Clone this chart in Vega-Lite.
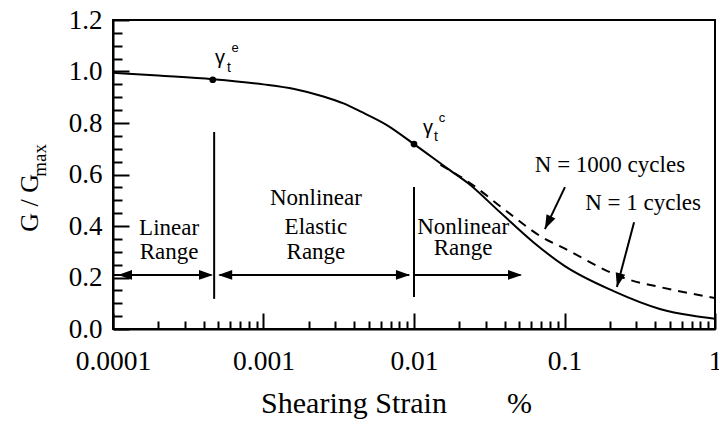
{
  "$schema": "https://vega.github.io/schema/vega-lite/v6.json",
  "width": 602,
  "height": 309,
  "autosize": {"type": "none"},
  "padding": {"left": 113, "top": 20, "right": 4, "bottom": 95},
  "background": "white",
  "config": {
    "view": {"stroke": "black", "strokeWidth": 2},
    "font": "Liberation Serif, Times New Roman, serif",
    "axis": {"labelFont": "Liberation Serif, Times New Roman, serif", "titleFont": "Liberation Serif, Times New Roman, serif"},
    "text": {"font": "Liberation Serif, Times New Roman, serif"}
  },
  "datasets": {
    "solid": [
      {"x": 0.0001, "y": 0.995}, {"x": 0.0002, "y": 0.984}, {"x": 0.00046, "y": 0.970}, {"x": 0.001, "y": 0.950},
      {"x": 0.0016, "y": 0.932}, {"x": 0.0025, "y": 0.903}, {"x": 0.0034, "y": 0.876}, {"x": 0.0044, "y": 0.845},
      {"x": 0.0066, "y": 0.792}, {"x": 0.01, "y": 0.718}, {"x": 0.0173, "y": 0.617}, {"x": 0.0229, "y": 0.566},
      {"x": 0.0372, "y": 0.454}, {"x": 0.0618, "y": 0.338}, {"x": 0.1, "y": 0.245}, {"x": 0.21, "y": 0.148},
      {"x": 0.43, "y": 0.078}, {"x": 0.7, "y": 0.052}, {"x": 1, "y": 0.040}
    ],
    "dashed": [
      {"x": 0.015, "y": 0.637}, {"x": 0.0229, "y": 0.572}, {"x": 0.0403, "y": 0.462}, {"x": 0.0708, "y": 0.357},
      {"x": 0.096, "y": 0.318}, {"x": 0.26, "y": 0.194}, {"x": 0.43, "y": 0.163}, {"x": 1, "y": 0.12}
    ],
    "points": [{"x": 0.00046, "y": 0.968}, {"x": 0.01, "y": 0.718}],
    "rules": [
      {"x": 0.00047, "y": 0.117, "x2": 0.00047, "y2": 0.765},
      {"x": 0.01, "y": 0.124, "x2": 0.01, "y2": 0.551},
      {"x": 0.0001, "y": 0.21, "x2": 0.00045, "y2": 0.21},
      {"x": 0.00051, "y": 0.21, "x2": 0.0093, "y2": 0.21},
      {"x": 0.01, "y": 0.21, "x2": 0.051, "y2": 0.21},
      {"x": 0.1007, "y": 0.551, "x2": 0.0741, "y2": 0.388},
      {"x": 0.29, "y": 0.415, "x2": 0.223, "y2": 0.163}
    ],
    "headsRight": [{"x": 0.000462, "y": 0.21}, {"x": 0.0094, "y": 0.21}, {"x": 0.0522, "y": 0.21}],
    "headsLeft": [{"x": 0.000108, "y": 0.21}, {"x": 0.0005, "y": 0.21}],
    "head1000": [{"x": 0.0741, "y": 0.388}],
    "head1": [{"x": 0.223, "y": 0.163}],
    "labels": [
      {"x": 0.000236, "y": 0.392, "t": "Linear"}, {"x": 0.000236, "y": 0.299, "t": "Range"},
      {"x": 0.00223, "y": 0.509, "t": "Nonlinear"}, {"x": 0.00223, "y": 0.396, "t": "Elastic"}, {"x": 0.00223, "y": 0.299, "t": "Range"},
      {"x": 0.0212, "y": 0.396, "t": "Nonlinear"}, {"x": 0.0212, "y": 0.315, "t": "Range"},
      {"x": 0.2004, "y": 0.637, "t": "N = 1000 cycles"}, {"x": 0.333, "y": 0.489, "t": "N = 1 cycles"}
    ],
    "gamma": [{"x": 0.000514, "y": 1.052, "t": "γ"}, {"x": 0.01239, "y": 0.781, "t": "γ"}],
    "gsub": [{"x": 0.00059, "y": 1.014, "t": "t"}, {"x": 0.014, "y": 0.746, "t": "t"}],
    "gsup": [{"x": 0.000647, "y": 1.091, "t": "e"}, {"x": 0.01535, "y": 0.819, "t": "c"}],
    "ytitle": [{"x": 0.0000281, "y": 0.49, "t": "G / G"}],
    "ytitlesub": [{"x": 0.0000327, "y": 0.655, "t": "max"}]
  },
  "encoding": {
    "x": {
      "field": "x", "type": "quantitative",
      "scale": {"type": "log", "domain": [0.0001, 1], "nice": false},
      "axis": {
        "values": [0.0001, 0.0002, 0.0003, 0.0004, 0.0005, 0.0006, 0.0007, 0.0008, 0.0009,
                   0.001, 0.002, 0.003, 0.004, 0.005, 0.006, 0.007, 0.008, 0.009,
                   0.01, 0.02, 0.03, 0.04, 0.05, 0.06, 0.07, 0.08, 0.09,
                   0.1, 0.2, 0.3, 0.4, 0.5, 0.6, 0.7, 0.8, 0.9, 1],
        "labelExpr": "abs(log(datum.value)/LN10 - round(log(datum.value)/LN10)) < 1e-6 ? format(datum.value, '~g') : ''",
        "tickSize": {"condition": {"test": "abs(log(datum.value)/LN10 - round(log(datum.value)/LN10)) < 1e-6", "value": -16}, "value": -8},
        "tickColor": "black", "tickWidth": 2, "domainColor": "black", "domainWidth": 2,
        "labelFontSize": 27.5, "labelColor": "black", "labelPadding": 34,
        "labelOverlap": false, "labelFlush": false, "grid": false,
        "title": "Shearing Strain\u00a0\u00a0\u00a0\u00a0\u00a0\u00a0\u00a0\u00a0%",
        "titleX": 283, "titleAlign": "center",
        "titleFontSize": 30, "titleFontWeight": "normal", "titleColor": "black", "titlePadding": 6
      }
    },
    "y": {
      "field": "y", "type": "quantitative",
      "scale": {"domain": [0, 1.2], "nice": false, "zero": false},
      "axis": {
        "values": [0, 0.05, 0.1, 0.15, 0.2, 0.25, 0.3, 0.35, 0.4, 0.45, 0.5, 0.55, 0.6, 0.65, 0.7, 0.75, 0.8, 0.85, 0.9, 0.95, 1, 1.05, 1.1, 1.15, 1.2],
        "labelExpr": "abs(datum.value*5 - round(datum.value*5)) < 1e-6 ? format(datum.value, '.1f') : ''",
        "tickSize": {"condition": {"test": "abs(datum.value*5 - round(datum.value*5)) < 1e-6", "value": -16}, "value": -9},
        "tickColor": "black", "tickWidth": 2, "domainColor": "black", "domainWidth": 2,
        "labelFontSize": 27, "labelColor": "black", "labelPadding": 27,
        "labelOverlap": false, "labelFlush": false, "grid": false, "title": null
      }
    }
  },
  "layer": [
    {"data": {"name": "solid"}, "mark": {"type": "line", "color": "black", "strokeWidth": 2, "interpolate": "monotone"}},
    {"data": {"name": "dashed"}, "mark": {"type": "line", "color": "black", "strokeWidth": 2, "strokeDash": [9, 7], "interpolate": "monotone"}},
    {"data": {"name": "points"}, "mark": {"type": "point", "filled": true, "color": "black", "size": 45, "opacity": 1}},
    {"data": {"name": "rules"}, "mark": {"type": "rule", "color": "black", "strokeWidth": 2},
     "encoding": {"x2": {"field": "x2"}, "y2": {"field": "y2"}}},
    {"data": {"name": "headsRight"}, "mark": {"type": "point", "shape": "M0,0L-1,-0.35L-1,0.35Z", "filled": true, "color": "black", "size": 784, "opacity": 1, "strokeWidth": 0}},
    {"data": {"name": "headsLeft"}, "mark": {"type": "point", "shape": "M0,0L-1,-0.35L-1,0.35Z", "angle": 180, "filled": true, "color": "black", "size": 784, "opacity": 1, "strokeWidth": 0}},
    {"data": {"name": "head1000"}, "mark": {"type": "point", "shape": "M0,0L-1,-0.35L-1,0.35Z", "angle": 115.5, "filled": true, "color": "black", "size": 784, "opacity": 1, "strokeWidth": 0}},
    {"data": {"name": "head1"}, "mark": {"type": "point", "shape": "M0,0L-1,-0.35L-1,0.35Z", "angle": 104.7, "filled": true, "color": "black", "size": 784, "opacity": 1, "strokeWidth": 0}},
    {"data": {"name": "labels"}, "mark": {"type": "text", "fontSize": 23, "color": "black", "align": "center", "baseline": "middle"},
     "encoding": {"text": {"field": "t"}}},
    {"data": {"name": "gamma"}, "mark": {"type": "text", "font": "Liberation Sans", "fontSize": 20, "color": "black", "align": "center", "baseline": "middle"},
     "encoding": {"text": {"field": "t"}}},
    {"data": {"name": "gsub"}, "mark": {"type": "text", "font": "Liberation Sans", "fontSize": 14, "color": "black", "align": "center", "baseline": "middle"},
     "encoding": {"text": {"field": "t"}}},
    {"data": {"name": "gsup"}, "mark": {"type": "text", "font": "Liberation Sans", "fontSize": 13, "color": "black", "align": "center", "baseline": "middle"},
     "encoding": {"text": {"field": "t"}}},
    {"data": {"name": "ytitle"}, "mark": {"type": "text", "fontSize": 26, "color": "black", "align": "center", "baseline": "middle", "angle": 270},
     "encoding": {"text": {"field": "t"}}},
    {"data": {"name": "ytitlesub"}, "mark": {"type": "text", "fontSize": 19, "color": "black", "align": "center", "baseline": "middle", "angle": 270},
     "encoding": {"text": {"field": "t"}}}
  ]
}
